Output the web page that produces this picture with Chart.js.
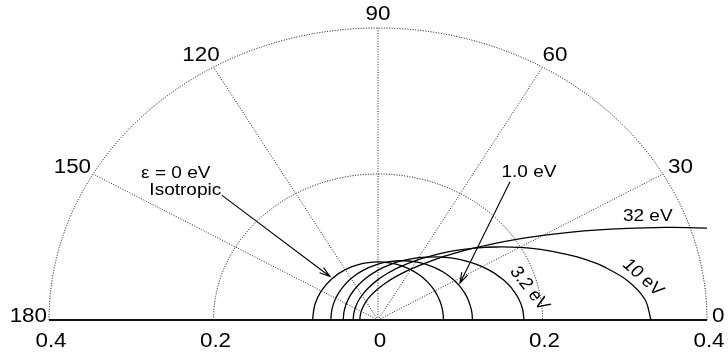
<!DOCTYPE html>
<html>
<head>
<meta charset="utf-8">
<script src="https://cdn.jsdelivr.net/npm/chart.js@4.4.0/dist/chart.umd.min.js"></script>
<style>
  html, body { margin: 0; padding: 0; background: #fff; }
  #wrap { width: 728px; height: 360px; }
</style>
</head>
<body>
<div id="wrap"><canvas id="polar" width="728" height="360"></canvas></div>
<script>
// scattering angle (deg) and normalised distribution
const angles = [0, 5, 10, 15, 17.5, 20, 25, 30, 35, 40, 45, 50, 60, 70, 80, 90, 105, 120, 135, 150, 165, 180];
const iso = [0.0796, 0.0796, 0.0796, 0.0796, 0.0796, 0.0796, 0.0796, 0.0796, 0.0796, 0.0796, 0.0796,
             0.0796, 0.0796, 0.0796, 0.0796, 0.0796, 0.0796, 0.0796, 0.0796, 0.0796, 0.0796, 0.0796];
const ev1 = [0.1148, 0.1146, 0.1139, 0.1129, 0.1122, 0.1114, 0.1096, 0.1076, 0.1053, 0.1028, 0.1001,
             0.0974, 0.0918, 0.0864, 0.0812, 0.0765, 0.0704, 0.0656, 0.0619, 0.0594, 0.0579, 0.0574];
const ev3 = [0.1774, 0.1764, 0.1732, 0.1683, 0.1652, 0.1618, 0.1543, 0.1461, 0.1376, 0.1291, 0.1208,
             0.1129, 0.0986, 0.0864, 0.0764, 0.0683, 0.0589, 0.0522, 0.0476, 0.0445, 0.0428, 0.0423];
const ev10 = [0.3319, 0.3257, 0.3084, 0.2836, 0.2695, 0.2550, 0.2260, 0.1987, 0.1743, 0.1530, 0.1347,
              0.1191, 0.0948, 0.0774, 0.0647, 0.0553, 0.0455, 0.0390, 0.0348, 0.0321, 0.0306, 0.0302];
const ev32 = [0.7283, 0.6865, 0.5859, 0.4713, 0.4184, 0.3707, 0.2914, 0.2317, 0.1871, 0.1535, 0.1281,
              0.1085, 0.0809, 0.0632, 0.0512, 0.0428, 0.0345, 0.0291, 0.0257, 0.0236, 0.0224, 0.0221];

const rings = [0.2, 0.4];
const spokes = [30, 60, 90, 120, 150];
const angleTicks = [0, 30, 60, 90, 120, 150, 180];
const radialTicks = [-0.4, -0.2, 0, 0.2, 0.4];
const radialLabels = ['0.4', '0.2', '0', '0.2', '0.4'];

// polar -> cartesian for the scatter scales
function toXY(r) {
  return angles.map((a, i) => {
    const t = a * Math.PI / 180;
    return { x: r[i] * Math.cos(t), y: r[i] * Math.sin(t) };
  });
}

const STRETCH = 1.12;
function txt(ctx, s, x, y, align, base, rot) {
  ctx.save();
  ctx.translate(x, y);
  ctx.scale(STRETCH, 1);
  if (rot) ctx.rotate(rot * Math.PI / 180);
  ctx.textAlign = align;
  ctx.textBaseline = base;
  ctx.fillText(s, 0, 0);
  ctx.restore();
}

function arrow(ctx, x1, y1, x2, y2) {
  const a = Math.atan2(y2 - y1, x2 - x1), L = 11, w = 0.3;
  ctx.beginPath();
  ctx.moveTo(x1, y1); ctx.lineTo(x2, y2);
  ctx.moveTo(x2 - L * Math.cos(a - w), y2 - L * Math.sin(a - w));
  ctx.lineTo(x2, y2);
  ctx.lineTo(x2 - L * Math.cos(a + w), y2 - L * Math.sin(a + w));
  ctx.stroke();
}

// annotation placement, in data units
const notes = [
  { text: 'ε = 0 eV', x: -0.288, y: 0.201, align: 'left' },
  { text: 'Isotropic', x: -0.278, y: 0.177, align: 'left' },
  { text: '1.0 eV', x: 0.150, y: 0.202, align: 'left' },
  { text: '32 eV', x: 0.328, y: 0.142, align: 'center' },
  { text: '10 eV', x: 0.322, y: 0.058, align: 'center', rot: 45 },
  { text: '3.2 eV', x: 0.184, y: 0.043, align: 'center', rot: 55 }
];
const arrows = [
  { x1: -0.190, y1: 0.171, x2: -0.0584, y2: 0.0596 },
  { x1: 0.1605, y1: 0.1895, x2: 0.0997, y2: 0.0507 }
];

const polarGrid = {
  id: 'polarGrid',
  beforeDatasetsDraw(chart) {
    const ctx = chart.ctx, xs = chart.scales.x, ys = chart.scales.y;
    const cx = xs.getPixelForValue(0), cy = ys.getPixelForValue(0);
    ctx.save();
    ctx.lineWidth = 1;
    ctx.setLineDash([1, 1.6]);
    ctx.strokeStyle = '#000';
    rings.forEach(r => {
      const rx = xs.getPixelForValue(r) - cx, ry = cy - ys.getPixelForValue(r);
      ctx.beginPath();
      ctx.ellipse(cx, cy, rx, ry, 0, Math.PI, 2 * Math.PI);
      ctx.stroke();
    });
    const rx = xs.getPixelForValue(0.4) - cx, ry = cy - ys.getPixelForValue(0.4);
    ctx.strokeStyle = '#222';
    spokes.forEach(a => {
      const t = a * Math.PI / 180;
      ctx.beginPath();
      ctx.moveTo(cx, cy);
      ctx.lineTo(cx + rx * Math.cos(t), cy - ry * Math.sin(t));
      ctx.stroke();
    });
    ctx.setLineDash([]);
    ctx.strokeStyle = '#111';
    ctx.lineWidth = 2;
    ctx.beginPath();
    ctx.moveTo(cx - rx, cy); ctx.lineTo(cx + rx, cy);
    ctx.stroke();
    ctx.restore();
  },
  afterDatasetsDraw(chart) {
    const ctx = chart.ctx, xs = chart.scales.x, ys = chart.scales.y;
    const cx = xs.getPixelForValue(0), cy = ys.getPixelForValue(0);
    const rx = xs.getPixelForValue(0.4) - cx, ry = cy - ys.getPixelForValue(0.4);
    ctx.save();
    ctx.fillStyle = '#000';
    ctx.font = '20px "Liberation Sans", Arial, sans-serif';
    angleTicks.forEach(a => {
      const t = a * Math.PI / 180, c = Math.cos(t), s = Math.sin(t);
      let x, y, align, base = 'middle';
      if (Math.abs(c) > 0.8) {
        align = c > 0 ? 'left' : 'right';
        x = cx + rx * c + (c > 0 ? 5 : -2);
      } else {
        align = 'center';
        x = cx + rx * c * 1.076;
      }
      if (s < 0.01) { base = 'alphabetic'; y = cy + 1.5; }
      else y = cy - (ry + 14) * s;
      txt(ctx, String(a), x, y, align, base);
    });
    radialTicks.forEach((v, i) => {
      txt(ctx, radialLabels[i], xs.getPixelForValue(v) + 2, 341, 'center', 'middle');
    });
    ctx.font = '17px "Liberation Sans", Arial, sans-serif';
    notes.forEach(n => {
      txt(ctx, n.text, xs.getPixelForValue(n.x), ys.getPixelForValue(n.y), n.align, 'middle', n.rot);
    });
    ctx.strokeStyle = '#000';
    ctx.lineWidth = 1.1;
    arrows.forEach(a => {
      arrow(ctx, xs.getPixelForValue(a.x1), ys.getPixelForValue(a.y1),
                 xs.getPixelForValue(a.x2), ys.getPixelForValue(a.y2));
    });
    ctx.restore();
  }
};

const curve = (label, r) => ({
  label: label,
  data: toXY(r),
  showLine: true,
  borderColor: '#000',
  borderWidth: 1.3,
  pointRadius: 0,
  tension: 0.35,
  fill: false
});

new Chart(document.getElementById('polar'), {
  type: 'scatter',
  data: {
    datasets: [
      curve('0 eV', iso),
      curve('1.0 eV', ev1),
      curve('3.2 eV', ev3),
      curve('10 eV', ev10),
      curve('32 eV', ev32)
    ]
  },
  options: {
    responsive: false,
    animation: false,
    devicePixelRatio: 1,
    layout: { padding: { left: 49, right: 21, top: 28, bottom: 40 } },
    scales: {
      x: { type: 'linear', min: -0.4, max: 0.4, display: false },
      y: { type: 'linear', min: 0, max: 0.4, display: false }
    },
    plugins: { legend: { display: false }, tooltip: { enabled: false } }
  },
  plugins: [polarGrid]
});
</script>
</body>
</html>
